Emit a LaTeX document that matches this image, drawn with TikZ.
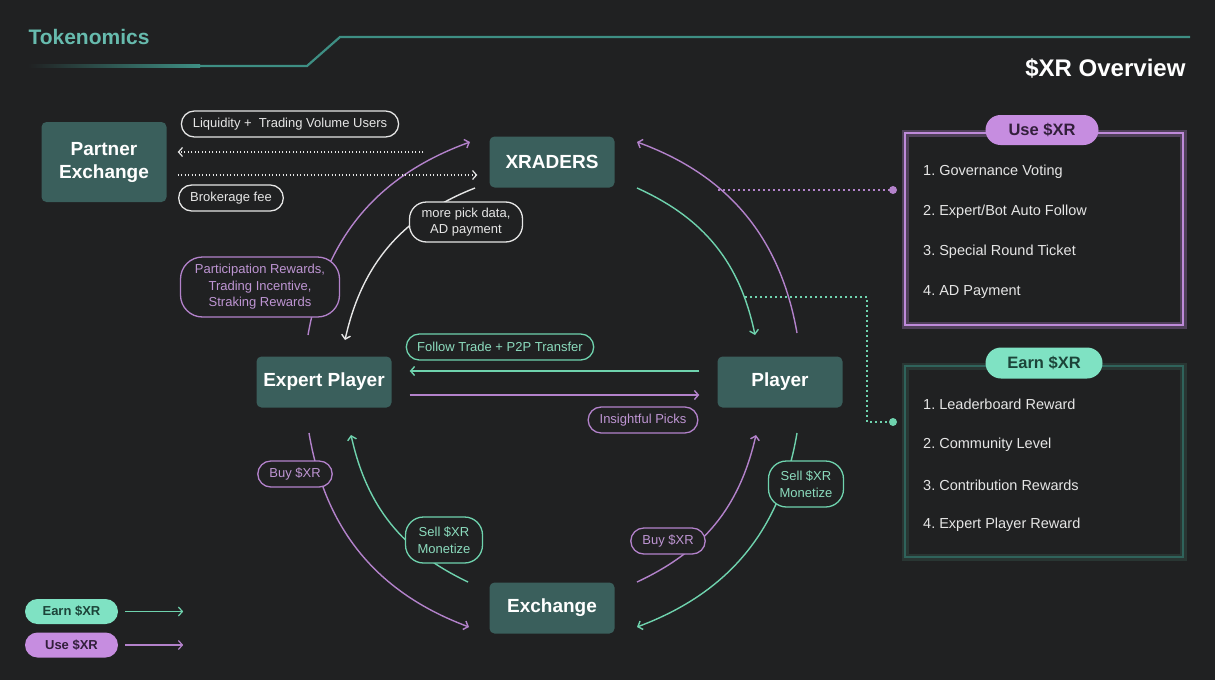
\documentclass[tikz,border=0pt]{standalone}
\usepackage{fontspec}
\setmainfont{Liberation Sans}
\usetikzlibrary{arrows.meta,shapes.misc}

\definecolor{bg}{HTML}{202122}
\definecolor{boxfill}{HTML}{3A5F5C}
\definecolor{hdrline}{HTML}{3E8F84}
\definecolor{hdrtext}{HTML}{67BBAE}
\definecolor{mint}{HTML}{6FD3AE}
\definecolor{lilac}{HTML}{B382CB}
\definecolor{mintfill}{HTML}{7FE2C3}
\definecolor{lilacfill}{HTML}{C68DE0}
\definecolor{softwhite}{HTML}{E6E6E6}
\definecolor{earnedge}{HTML}{2F635B}
\definecolor{useedge}{HTML}{BE8AD9}
\definecolor{lilacink}{HTML}{321F3B}
\definecolor{mintink}{HTML}{1C4439}

\tikzset{
  box/.style={rectangle, rounded corners=5pt, fill=boxfill, text=white, align=center,
    font=\bfseries\fontsize{19}{23}\selectfont, minimum height=51pt, minimum width=125pt, inner sep=0pt},
  tag/.style={draw, line width=1.3pt, fill=bg, align=center, font=\fontsize{13}{16.5}\selectfont},
  pill/.style={tag, rounded rectangle, inner xsep=10pt, inner ysep=2pt, minimum height=26pt},
  bigtag/.style={tag, rectangle, rounded corners=18pt, inner sep=0pt},
  wline/.style={draw=softwhite, text=softwhite},
  gline/.style={draw=mint, text=mint!80!white},
  pline/.style={draw=lilac, text=lilac!85!white},
  flow/.style={line width=1.4pt, -{Straight Barb[length=4pt,width=9pt]}},
  tap/.style={line width=1.6pt, dash pattern=on 1.6pt off 3.4pt},
  badge/.style={rounded rectangle, inner sep=0pt, minimum height=30pt,
    font=\bfseries\fontsize{16.5}{18}\selectfont},
  legend/.style={rounded rectangle, inner sep=0pt, minimum height=25pt, minimum width=93pt,
    font=\bfseries\fontsize{13}{15}\selectfont},
  item/.style={anchor=west, text=softwhite, font=\fontsize{14.5}{17}\selectfont, inner sep=0pt},
}

\begin{document}
\frenchspacing
\begin{tikzpicture}[x=1pt,y=1pt]
\fill[bg] (0,0) rectangle (1215,-680);
\useasboundingbox (0,0) rectangle (1215,-680);

% header
\shade[left color=bg, right color=hdrline] (28,-64.9) rectangle (200,-67.1);
\draw[hdrline, line width=2.2pt] (199,-66) -- (307,-66) -- (340,-37) -- (1190,-37);
\node[anchor=west, text=hdrtext, font=\bfseries\fontsize{21}{24}\selectfont] (title) at (25,-37) {Tokenomics};
\node[anchor=east, text=white, font=\bfseries\fontsize{24}{28}\selectfont] (overview) at (1189,-68) {\$XR Overview};

% main nodes
\node[box, minimum height=80pt] (px) at (104,-162) {Partner\\Exchange};
\node[box] (xr) at (552,-162) {XRADERS};
\node[box, minimum width=135pt] (ep) at (324,-382) {Expert Player};
\node[box] (pl) at (780,-382) {Player};
\node[box] (ex) at (552,-608) {Exchange};

% arc ends
\coordinate (ulFrom) at (308,-335);  \coordinate (ulTo) at (470,-142);
\coordinate (urFrom) at (797,-333);  \coordinate (urTo) at (637,-142);
\coordinate (giFrom) at (637,-188);  \coordinate (giTo) at (755,-335);
\coordinate (wiFrom) at (475,-188);  \coordinate (wiTo) at (345,-340);
\coordinate (llFrom) at (309,-433);  \coordinate (llTo) at (469,-627);
\coordinate (lgFrom) at (468,-582);  \coordinate (lgTo) at (351,-435);
\coordinate (rpFrom) at (637,-582);  \coordinate (rpTo) at (756,-435);
\coordinate (rgFrom) at (797,-433);  \coordinate (rgTo) at (637,-627);

% taps to the right boxes
\coordinate (useTap) at (718,-190);  \coordinate (useDot) at (893,-190);
\coordinate (earnTap) at (745,-297); \coordinate (earnDot) at (893,-422);
\draw[tap, lilac] (useTap) -- (useDot);
\draw[tap, mint] (earnTap) -- ++(122,0) |- (earnDot);
\fill[lilac] (useDot) circle (4pt);
\fill[mint] (earnDot) circle (4pt);

% circle flows
\draw[flow, lilac] (ulFrom) to[bend left=30] (ulTo);
\draw[flow, lilac] (urFrom) to[bend right=30] (urTo);
\draw[flow, mint] (giFrom) to[bend left=27] (giTo);
\draw[flow, softwhite] (wiFrom) to[bend right=28] (wiTo);
\draw[flow, lilac] (llFrom) to[bend right=30] (llTo);
\draw[flow, mint] (lgFrom) to[bend left=26] (lgTo);
\draw[flow, lilac] (rpFrom) to[bend right=26] (rpTo);
\draw[flow, mint] (rgFrom) to[bend left=30] (rgTo);

% partner exchange flows
\draw[flow, softwhite, line width=1.2pt, dash pattern=on 1.2pt off 2.3pt, shorten <=66pt, shorten >=11pt]
  ([yshift=10pt]xr.west) -- ([yshift=10pt]px.east);
\draw[flow, softwhite, line width=1.2pt, dash pattern=on 1.2pt off 2.3pt, shorten <=11pt, shorten >=12pt]
  ([yshift=-13pt]px.east) -- ([yshift=-13pt]xr.west);

% player flows
\draw[flow, mint, shorten <=18pt, shorten >=18pt] ([yshift=11pt]pl.west) -- ([yshift=11pt]ep.east);
\draw[flow, lilac, shorten <=18pt, shorten >=18pt] ([yshift=-13pt]ep.east) -- ([yshift=-13pt]pl.west);

% labels
\node[pill, wline] (liq) at (290,-124) {Liquidity +\ \ Trading Volume Users};
\node[pill, wline] (brok) at (231,-198) {Brokerage fee};
\node[bigtag, wline, minimum width=113pt, minimum height=40pt, rounded corners=17pt] (pick) at (466,-222) {more pick data,\\AD payment};
\node[bigtag, pline, minimum width=159pt, minimum height=60pt, rounded corners=22pt] (part) at (260,-287) {Participation Rewards,\\Trading Incentive,\\Straking Rewards};
\node[pill, gline] (follow) at (500,-347) {Follow Trade + P2P Transfer};
\node[pill, pline] (insight) at (643,-420) {Insightful Picks};
\node[pill, pline] (buyL) at (295,-474) {Buy \$XR};
\node[bigtag, gline, minimum width=77pt, minimum height=46pt] (sellL) at (444,-540) {Sell \$XR\\Monetize};
\node[pill, pline] (buyR) at (668,-541) {Buy \$XR};
\node[bigtag, gline, minimum width=75pt, minimum height=46pt] (sellR) at (806,-484) {Sell \$XR\\Monetize};

% use box
\draw[useedge, opacity=.3, line width=7pt] (905,-133) rectangle (1183,-325);
\draw[useedge, line width=2pt] (905,-133) rectangle (1183,-325);
\node[badge, fill=lilacfill, text=lilacink, minimum width=113pt] (useBadge) at (1042,-130) {Use \$XR};
\node[item] (use1) at (923,-172) {1. Governance Voting};
\node[item] (use2) at (923,-212) {2. Expert/Bot Auto Follow};
\node[item] (use3) at (923,-252) {3. Special Round Ticket};
\node[item] (use4) at (923,-292) {4. AD Payment};

% earn box
\draw[mint, opacity=.12, line width=7pt] (905,-366) rectangle (1183,-557);
\draw[earnedge, line width=2pt] (905,-366) rectangle (1183,-557);
\node[badge, fill=mintfill, text=mintink, minimum width=117pt, minimum height=31pt] (earnBadge) at (1044,-363) {Earn \$XR};
\node[item] (earn1) at (923,-404) {1. Leaderboard Reward};
\node[item] (earn2) at (923,-445) {2. Community Level};
\node[item] (earn3) at (923,-485) {3. Contribution Rewards};
\node[item] (earn4) at (923,-525) {4. Expert Player Reward};

% legend
\node[legend, fill=mintfill, text=mintink] (legEarn) at (71.5,-611.5) {Earn \$XR};
\node[legend, fill=lilacfill, text=lilacink] (legUse) at (71.5,-645) {Use \$XR};
\draw[flow, mint, line width=1.2pt, shorten <=7pt] (legEarn.east) -- ++(65,0);
\draw[flow, lilac, line width=1.2pt, shorten <=7pt] (legUse.east) -- ++(65,0);
\end{tikzpicture}
\end{document}
